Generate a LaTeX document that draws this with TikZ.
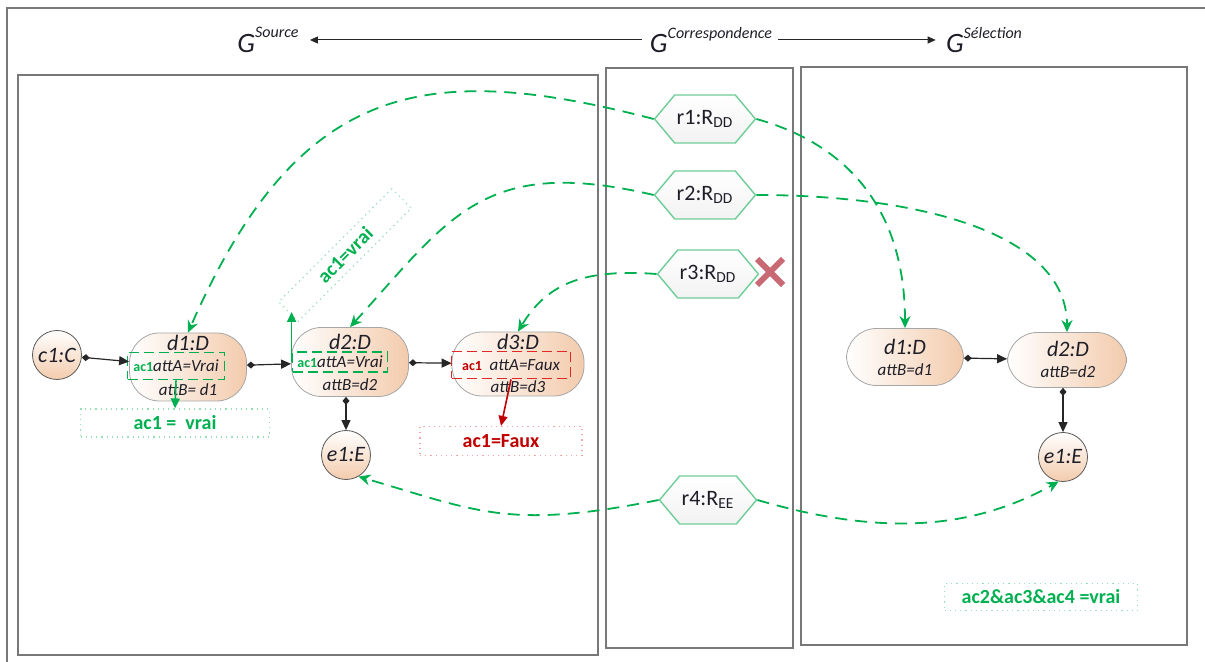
\documentclass[tikz,border=0pt]{standalone}
\usepackage{fontspec}
\setmainfont{Carlito}
\usetikzlibrary{arrows.meta,positioning,shapes.symbols,shapes.misc}
\definecolor{peach}{RGB}{243,203,172}
\definecolor{acgreen}{RGB}{0,176,80}
\definecolor{hexgreen}{RGB}{110,205,150}
\definecolor{palegreen}{RGB}{150,222,180}
\definecolor{fauxred}{RGB}{192,0,0}
\definecolor{fauxline}{RGB}{225,40,40}
\definecolor{pinkline}{RGB}{240,165,165}
\definecolor{panelgray}{RGB}{120,120,120}
\definecolor{crossred}{RGB}{200,105,115}
\definecolor{ink}{RGB}{30,30,40}
\tikzset{
  dnode/.style   = {draw=gray!70, rounded corners=15pt, left color=white,
                    right color=peach, inner sep=0pt},
  cnode/.style   = {circle, draw=gray!70!black, top color=white, bottom color=peach,
                    minimum size=24.5pt, inner sep=0pt, text=ink,
                    font=\fontsize{11}{12}\selectfont\itshape},
  dtitle/.style  = {inner sep=0pt, text=ink, font=\fontsize{11}{12}\selectfont\itshape},
  dattr/.style   = {inner sep=0pt, text=ink, font=\fontsize{8.5}{10}\selectfont\itshape},
  okcheck/.style = {draw=acgreen, dash pattern=on 5pt off 2.5pt, line width=0.9pt,
                    inner sep=1pt, text=ink, font=\fontsize{8.5}{10}\selectfont\itshape},
  kocheck/.style = {okcheck, draw=fauxline},
  acbox/.style   = {draw=palegreen, dotted, line width=0.6pt, text=acgreen,
                    font=\fontsize{10}{12}\selectfont\bfseries},
  kobox/.style   = {acbox, draw=pinkline, text=fauxred},
  rhex/.style    = {signal, signal to=east and west, signal pointer angle=100,
                    draw=hexgreen, line width=0.7pt, top color=white, bottom color=gray!10,
                    minimum width=47.5pt, minimum height=24pt, inner sep=1pt, text=ink,
                    font=\fontsize{11}{12}\selectfont},
  gtitle/.style  = {inner sep=0pt, text=ink, font=\fontsize{14}{16}\selectfont\itshape},
  tie/.style     = {{Diamond[length=4pt,width=3.5pt]}-{Triangle[length=5pt,width=4.5pt]},
                    draw=gray!30!black, line width=0.6pt},
  match/.style   = {-{Stealth[length=6pt,width=5.5pt]}, draw=acgreen, line width=0.9pt,
                    dash pattern=on 6pt off 4pt},
  eval/.style    = {-{Triangle[length=5pt,width=4.5pt]}, draw=acgreen, line width=0.8pt},
  koeval/.style  = {eval, draw=fauxred},
  topflow/.style = {-{Triangle[length=4pt,width=3.5pt]}, draw=gray!30!black, line width=0.5pt},
  panel/.style   = {draw=panelgray, line width=0.6pt},
}
\newcommand{\acref}[1]{{\fontsize{7}{8}\selectfont\upshape\bfseries\color{#1}ac1}}
\newcommand{\gsup}[1]{\raisebox{1.1ex}{\fontsize{8}{9}\selectfont #1}}

\begin{document}
\begin{tikzpicture}[x=0.5pt, y=-0.5pt]
\useasboundingbox (0,0) rectangle (1205,662);
% frame and the three graphs
\draw[panelgray, line width=1.2pt] (7,662) |- (1205,8);
\draw[panel] (18,75) rectangle (598,655);
\draw[panel] (606,68) rectangle (793,648);
\draw[panel] (801,67) rectangle (1187,645);

% titles
\node[gtitle] (gsrc) at (268,40) {G\gsup{Source}};
\node[gtitle] (gcor) at (711,40) {G\gsup{Correspondence}};
\node[gtitle] (gsel) at (984,40) {G\gsup{Sélection}};
\draw[topflow, shorten <=4pt, shorten >=5.5pt] (gcor.west) -- (gsrc.east);
\draw[topflow, shorten <=3pt, shorten >=5pt] (gcor.east) -- (gsel.west);

% source graph
\node[cnode] (c1) at (57,355) {c1:C};
\node[dnode, minimum width=58.5pt, minimum height=34pt] (d1) at (188,367) {};
\node[dtitle] (d1t) at (188,343) {d1:D};
\node[okcheck, minimum width=48.5pt, minimum height=13.5pt] (d1a) at (176,366) {\acref{acgreen}attA=Vrai};
\node[dattr] (d1b) at (188,390) {attB= d1};
\node[dnode, minimum width=58.5pt, minimum height=34.5pt] (d2) at (350,362) {};
\node[dtitle] (d2t) at (350,342) {d2:D};
\node[okcheck, minimum width=47.5pt, minimum height=9.75pt] (d2a) at (340,362) {\acref{acgreen}attA=Vrai};
\node[dattr] (d2b) at (350,385) {attB=d2};
\node[dnode, minimum width=66pt, minimum height=32pt] (d3) at (518,364) {};
\node[dtitle] (d3t) at (518,342) {d3:D};
\node[kocheck, minimum width=59.5pt, minimum height=13.5pt] (d3a) at (511,365) {\acref{fauxred}\ \ attA=Faux};
\node[dattr] (d3b) at (518,387) {attB=d3};
\node[cnode] (e1) at (346,455) {e1:E};

\node[acbox, minimum width=94.5pt, minimum height=14pt] (ac1ok) at (175,423) {ac1 =\ \ vrai};
\node[kobox, minimum width=81pt, minimum height=14.5pt] (ac1ko) at (501,441) {ac1=Faux};
\node[acbox, rotate=45, minimum width=80pt, minimum height=11pt] (ac1rot) at (345,255) {ac1=vrai};

\draw[tie] (c1) -- (d1);
\draw[tie] (d1) -- (d2);
\draw[tie] (d2) -- (d3);
\draw[tie] (e1 |- d2.south) -- (e1);
\draw[eval] (d1a.south) -- (ac1ok.north);
\draw[eval] (d2a.west) -- (d2a.west |- ac1rot.west);
\draw[koeval] (d3a.south) -- (ac1ko.north);

% correspondence graph
\node[rhex] (r1) at (705,119) {r1:R\textsubscript{DD}};
\node[rhex] (r2) at (705,195) {r2:R\textsubscript{DD}};
\node[rhex] (r3) at (708,274) {r3:R\textsubscript{DD}};
\node[rhex] (r4) at (708,500) {r4:R\textsubscript{EE}};
\node[cross out, draw=crossred, line width=3pt, minimum size=10pt, inner sep=0pt] (r3x) at (770,272) {};

% selection graph
\node[dnode, minimum width=58.5pt, minimum height=28.5pt] (rd1) at (905,357) {};
\node[dtitle] (rd1t) at (905,347) {d1:D};
\node[dattr] (rd1b) at (905,370) {attB=d1};
\node[dnode, minimum width=59.5pt, minimum height=27.5pt] (rd2) at (1067,360) {};
\node[dtitle] (rd2t) at (1068,349) {d2:D};
\node[dattr] (rd2b) at (1068,372) {attB=d2};
\node[cnode] (re1) at (1063,457) {e1:E};
\node[acbox, minimum width=96.5pt, minimum height=13.5pt] (ac234) at (1041,597) {ac2\&ac3\&ac4 =vrai};

\draw[tie] (rd1) -- (rd2);
\draw[tie] (re1 |- rd2.south) -- (re1);

% mappings between the graphs
\draw[match] (r1.west) .. controls +(-230,-60) and +(110,-250) .. (d1.north);
\draw[match] (r1.east) .. controls +(90,25) and +(0,-120) .. (rd1.north);
\draw[match] (r2.west) .. controls +(-170,-40) and +(100,-110) .. (d2.north);
\draw[match] (r2.east) .. controls +(160,0) and +(0,-100) .. (rd2.north);
\draw[match] (r3.west) .. controls +(-70,-5) and +(30,-50) .. (d3.north);
\draw[match] (r4.west) .. controls +(-150,30) and +(120,35) .. (e1.-60);
\draw[match] (r4.east) .. controls +(120,35) and +(-90,50) .. (re1.-100);
\end{tikzpicture}
\end{document}
